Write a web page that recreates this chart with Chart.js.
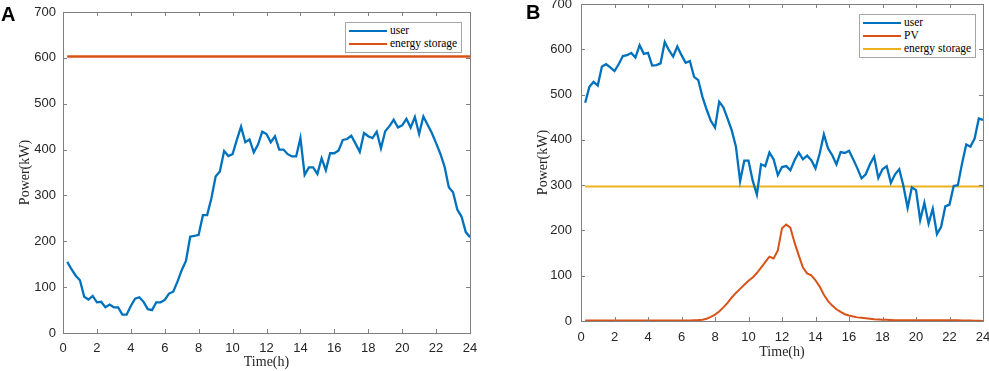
<!DOCTYPE html>
<html lang="en">
<head>
  <meta charset="UTF-8" />
  <title>User load, PV and energy storage power</title>
  <script src="https://cdn.jsdelivr.net/npm/chart.js"></script>
  <style>
    body { margin: 0; background: #fff; }
    #wrap { position: relative; width: 989px; height: 371px; overflow: hidden; }
    canvas { position: absolute; top: 0; }
    .panel { position: absolute; font: bold 20px "Liberation Sans", Arial, sans-serif; line-height: 1; color: #000; }
    .legend { position: absolute; background: #fff; border: 1px solid #a6a6a6; padding: 1px 4px 2px 3px;
              font: 11.5px "Liberation Serif", "Times New Roman", serif; color: #000; }
    .legend div { height: 13px; line-height: 13px; display: flex; align-items: center; white-space: nowrap; }
    .legend .swatch { display: inline-block; width: 38px; height: 0; border-top: 2px solid; margin-right: 3px; }
  </style>
</head>
<body>
<div id="wrap">
  <canvas id="chartA" width="490" height="371" style="left:0"></canvas>
  <canvas id="chartB" width="499" height="371" style="left:490px"></canvas>
  <div class="panel" style="left:1px;top:4px">A</div>
  <div class="panel" style="left:526px;top:2px">B</div>
  <div class="legend" style="left:345px;top:22px">
    <div><span class="swatch" style="border-color:#0072BD"></span>user</div>
    <div><span class="swatch" style="border-color:#D95319"></span>energy storage</div>
  </div>
  <div class="legend" style="left:859px;top:14px">
    <div><span class="swatch" style="border-color:#0072BD"></span>user</div>
    <div><span class="swatch" style="border-color:#D95319"></span>PV</div>
    <div><span class="swatch" style="border-color:#EDB120"></span>energy storage</div>
  </div>
</div>

<script>
  // time grid: one point every 15 minutes, 0.25 h .. 24 h
  const hours = Array.from({ length: 96 }, (_, i) => (i + 1) / 4);
  const xTicks = [0, 2, 4, 6, 8, 10, 12, 14, 16, 18, 20, 22, 24];
  const yTicks = [0, 100, 200, 300, 400, 500, 600, 700];

  // panel A
  const userA = [155, 139, 125, 115, 79, 73, 81, 67, 68, 56, 62, 56, 56, 40, 40, 59,
    75, 78, 68, 52, 50, 67, 67, 72, 86, 90, 112, 137, 157, 210, 212, 214,
    257, 257, 294, 341, 352, 397, 386, 390, 421, 450, 416, 422, 394, 411, 439, 434,
    416, 429, 400, 400, 390, 385, 385, 425, 345, 361, 361, 347, 381, 355, 392, 392,
    398, 421, 423, 430, 413, 395, 436, 429, 425, 439, 403, 440, 451, 465, 448, 453,
    467, 448, 471, 434, 472, 454, 436, 414, 391, 363, 318, 307, 269, 254, 220, 209];
  const storageSpan = [0.25, 24];
  const storageA = [603, 603];

  // panel B
  const userB = [482, 517, 528, 520, 562, 567, 560, 552, 567, 585, 587, 592, 582, 609, 590, 592,
    564, 565, 569, 616, 598, 584, 606, 587, 570, 574, 539, 532, 495, 467, 442, 427,
    484, 472, 447, 421, 385, 309, 354, 354, 310, 279, 346, 342, 372, 357, 322, 340,
    342, 333, 355, 372, 357, 365, 355, 337, 370, 412, 381, 366, 346, 373, 371, 376,
    357, 337, 315, 324, 346, 363, 316, 335, 342, 305, 324, 335, 298, 250, 295, 289,
    223, 261, 215, 248, 192, 208, 253, 257, 298, 300, 348, 390, 385, 403, 447, 444];
  const pvB = [1, 1, 1, 1, 1, 1, 1, 1, 1, 1, 1, 1, 1, 1, 1, 1,
    1, 1, 1, 1, 1, 1, 1, 1, 1, 1, 1.5, 2, 3, 5, 9, 14,
    21, 30, 40, 52, 62, 71, 80, 89, 96, 106, 118, 130, 142, 138, 156, 205,
    213, 206, 173, 145, 118, 105, 101, 90, 76, 58, 44, 34, 26, 20, 15, 12,
    10, 8, 7, 6, 5, 4, 3.5, 3, 2.5, 2, 1.5, 1.5, 1.5, 1.5, 1.5, 1.5,
    1.5, 1.5, 1.5, 1.5, 1.5, 1.5, 1.5, 1.5, 1.5, 1.5, 1, 1, 1, 0.5, 0.5, 0];
  const storageB = [297, 297];

  const pts = (xs, ys) => ys.map((v, i) => ({ x: xs[i], y: v }));

  // box round the plot with inward ticks on all four sides
  const matlabFrame = {
    id: 'matlabFrame',
    afterDraw(chart) {
      const { ctx, chartArea: a, scales: { x, y } } = chart;
      ctx.save();
      ctx.strokeStyle = '#808080';
      ctx.lineWidth = 1;
      ctx.beginPath();
      x.ticks.forEach(t => {
        const px = Math.round(x.getPixelForValue(t.value)) + 0.5;
        ctx.moveTo(px, a.bottom); ctx.lineTo(px, a.bottom - 4);
        ctx.moveTo(px, a.top); ctx.lineTo(px, a.top + 4);
      });
      y.ticks.forEach(t => {
        const py = Math.round(y.getPixelForValue(t.value)) + 0.5;
        ctx.moveTo(a.left, py); ctx.lineTo(a.left + 4, py);
        ctx.moveTo(a.right, py); ctx.lineTo(a.right - 4, py);
      });
      ctx.stroke();
      ctx.strokeRect(Math.round(a.left) + 0.5, Math.round(a.top) + 0.5,
        Math.round(a.right - a.left), Math.round(a.bottom - a.top));
      ctx.restore();
    }
  };

  function makeChart(id, datasets, o) {
    return new Chart(document.getElementById(id), {
      type: 'line',
      data: { datasets },
      plugins: [matlabFrame],
      options: {
        responsive: false,
        animation: false,
        layout: { padding: { left: 0, right: o.padRight, top: o.padTop, bottom: 0 } },
        plugins: { legend: { display: false }, tooltip: { enabled: false } },
        elements: { point: { radius: 0 }, line: { tension: 0 } },
        scales: {
          x: {
            type: 'linear', min: 0, max: 24,
            border: { display: false },
            grid: { display: false, drawTicks: false },
            afterBuildTicks: s => { s.ticks = xTicks.map(v => ({ value: v })); },
            afterFit: s => { s.height = o.xHeight; s.paddingLeft = 0; s.paddingRight = 0; },
            ticks: { color: '#262626', padding: o.xTickPad, maxRotation: 0, autoSkip: false,
                     font: { family: '"Liberation Sans", Arial, sans-serif', size: 13 } },
            title: { display: true, text: 'Time(h)', color: '#262626',
                     padding: { top: 0, bottom: o.xTitlePad },
                     font: { family: '"Liberation Serif", "Times New Roman", serif', size: 14 } }
          },
          y: {
            min: 0, max: 700,
            border: { display: false },
            grid: { display: false, drawTicks: false },
            afterBuildTicks: s => { s.ticks = yTicks.map(v => ({ value: v })); },
            afterFit: s => { s.width = o.yWidth; s.paddingTop = 0; s.paddingBottom = 0; },
            ticks: { color: '#262626', padding: o.yTickPad,
                     font: { family: '"Liberation Sans", Arial, sans-serif', size: 13 } },
            title: { display: true, text: 'Power(kW)', color: '#262626',
                     padding: { top: o.yTitlePad, bottom: 0 },
                     font: { family: '"Liberation Serif", "Times New Roman", serif', size: 14 } }
          }
        }
      }
    });
  }

  makeChart('chartA', [
    { label: 'user', data: pts(hours, userA), borderColor: '#0072BD', borderWidth: 2.3 },
    { label: 'energy storage', data: pts(storageSpan, storageA), borderColor: '#D95319', borderWidth: 2.5 }
  ], { padRight: 20, padTop: 12, xHeight: 38, yWidth: 63, xTickPad: 8, xTitlePad: 0, yTickPad: 7, yTitlePad: 16.5 });

  makeChart('chartB', [
    { label: 'user', data: pts(hours, userB), borderColor: '#0072BD', borderWidth: 2.3 },
    { label: 'PV', data: pts(hours, pvB), borderColor: '#D95319', borderWidth: 2 },
    { label: 'energy storage', data: pts(storageSpan, storageB), borderColor: '#EDB120', borderWidth: 2 }
  ], { padRight: 6, padTop: 4, xHeight: 50, yWidth: 91, xTickPad: 9, xTitlePad: 10, yTickPad: 9, yTitlePad: 44.5 });
</script>
</body>
</html>
